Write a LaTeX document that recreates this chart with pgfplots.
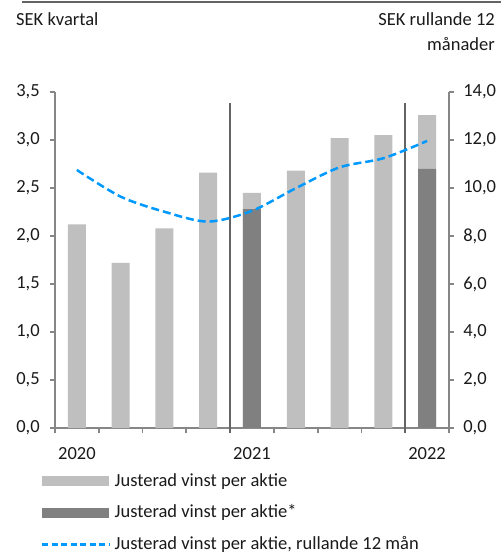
\documentclass[border=0pt]{standalone}
\usepackage{fontspec}
\setmainfont{Carlito}
\usepackage{pgfplots}
\pgfplotsset{compat=1.18}
\definecolor{lightbar}{RGB}{191,191,191}
\definecolor{darkbar}{RGB}{128,128,128}
\definecolor{axisgray}{RGB}{134,134,134}
\definecolor{sepgray}{RGB}{100,100,100}
\definecolor{linblue}{RGB}{0,153,255}
\definecolor{txt}{RGB}{26,26,26}
\pgfplotsset{
  lgl/.style={legend image code/.code={\fill[lightbar] (0bp,-5bp) rectangle (67bp,5bp); \path (72bp,-5bp) (72bp,5bp);}},
  lgd/.style={legend image code/.code={\fill[darkbar] (0bp,-5bp) rectangle (67bp,5bp); \path (72bp,-5bp) (72bp,5bp);}},
  lgb/.style={legend image code/.code={\draw[linblue, line width=2.5bp, dash pattern=on 6bp off 3.5bp] (0bp,0bp) -- (67bp,0bp); \path (72bp,-5bp) (72bp,5bp);}},
  commonax/.style={
    at={(55bp,-428bp)}, anchor=south west,
    scale only axis, width=394bp, height=336bp,
    xmin=0.5, xmax=9.5,
    tick align=outside,
    major tick length=5bp, minor tick length=5bp,
    tick style={axisgray, line width=1.8bp},
    axis line style={axisgray, line width=1.8bp, -},
    ticklabel style={text=txt},
  }
}
\begin{document}
\fontsize{18.5bp}{22bp}\selectfont
\begin{tikzpicture}
\useasboundingbox (0,0) rectangle (501bp,-554bp);
\draw[sepgray, line width=1.5bp] (22bp,-2bp) -- (501bp,-2bp);
\node[anchor=west, text=txt, inner sep=0pt] at (16bp,-19bp) {SEK kvartal};
\node[anchor=east, text=txt, inner sep=0pt] at (495bp,-19bp) {SEK rullande 12};
\node[anchor=east, text=txt, inner sep=0pt] at (495bp,-44bp) {månader};

\begin{axis}[commonax,
  ymin=0, ymax=3.5,
  axis y line*=left, axis x line*=bottom,
  xtick={1,5,9}, xticklabels={2020,2021,2022},
  xticklabel style={yshift=-8bp},
  yticklabel style={/tikz/xshift=-4bp, /pgf/number format/.cd, use comma, fixed, fixed zerofill, precision=1, assume math mode=true},
  minor xtick={0.5,1.5,2.5,3.5,4.5,5.5,6.5,7.5,8.5,9.5},
  major x tick style={draw=none},
  ytick={0,0.5,1,1.5,2,2.5,3,3.5},
  clip=false,
  legend style={at={(-0.0355,-0.134)}, anchor=north west, draw=none, fill=none,
    inner sep=0pt, row sep=16bp, nodes={inner sep=0pt, text=txt}},
  legend cell align=left,
]
\addplot[ybar, bar width=18bp, bar shift=0pt, fill=lightbar, draw=none, lgl]
  coordinates {(1,2.12) (2,1.72) (3,2.08) (4,2.66) (5,2.45) (6,2.68) (7,3.02) (8,3.05) (9,3.26)};
\addlegendentry{Justerad vinst per aktie}
\addplot[ybar, bar width=18bp, bar shift=0pt, fill=darkbar, draw=none, lgd]
  coordinates {(5,2.28) (9,2.70)};
\addlegendentry{Justerad vinst per aktie*}
\addlegendimage{lgb}
\addlegendentry{Justerad vinst per aktie, rullande 12 mån}
\draw[sepgray, line width=1.5bp] (axis cs:4.5,-0.05) -- (axis cs:4.5,3.385);
\draw[sepgray, line width=1.5bp] (axis cs:8.5,-0.05) -- (axis cs:8.5,3.385);
\end{axis}

\begin{axis}[commonax,
  ymin=0, ymax=14,
  axis y line*=right, axis x line=none,
  yticklabel style={/tikz/xshift=3bp, /pgf/number format/.cd, use comma, fixed, fixed zerofill, precision=1, assume math mode=true},
  ytick={0,2,4,6,8,10,12,14},
]
\addplot[linblue, line width=2.5bp, dash pattern=on 8bp off 4bp, smooth]
  coordinates {(1,10.75) (2,9.64) (3,9.01) (4,8.6) (5,9.05) (6,9.99) (7,10.86) (8,11.24) (9,11.96)};
\end{axis}
\end{tikzpicture}
\end{document}
